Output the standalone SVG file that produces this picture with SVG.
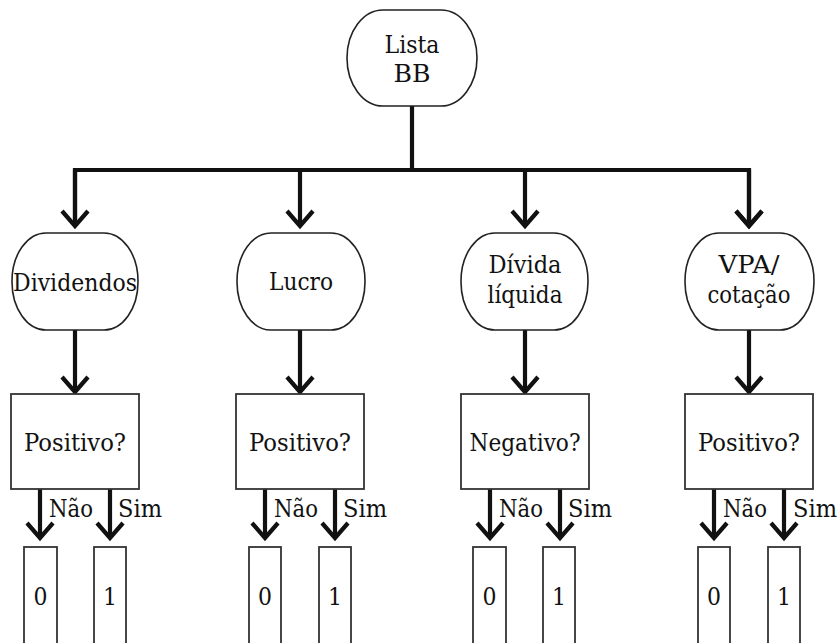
<svg xmlns="http://www.w3.org/2000/svg" width="839" height="643" viewBox="0 0 839 643">
  <defs>
    <style>
      .node { fill: #ffffff; stroke: #222222; stroke-width: 1.6; }
      .box { fill: #ffffff; stroke: #333333; stroke-width: 1.8; }
      .wire { fill: none; stroke: #111111; stroke-width: 4.2; stroke-linecap: butt; stroke-linejoin: miter; }
      .lbl { text-anchor: middle; }
    </style>
    <marker id="chev" viewBox="-20 -16 24 32" refX="0" refY="0" markerWidth="24" markerHeight="32" markerUnits="userSpaceOnUse" orient="auto">
      <path d="M -15,-13 L 0,0 L -15,13" fill="none" stroke="#111111" stroke-width="4.2" stroke-linejoin="miter"/>
    </marker>
  </defs>
  <rect width="839" height="643" fill="#ffffff"/>

  <!-- connectors -->
  <g id="connectors" class="wire">
    <!-- root to the four criteria -->
    <path d="M 412,106 V 170"/>
    <path d="M 75,226 V 170 H 749 V 226" marker-end="url(#chev)"/>
    <path d="M 75,170 V 226" marker-end="url(#chev)"/>
    <path d="M 300,170 V 226" marker-end="url(#chev)"/>
    <path d="M 525,170 V 226" marker-end="url(#chev)"/>
    <path d="M 749,170 V 226" marker-end="url(#chev)"/>
    <!-- criterion to test -->
    <path d="M 75,330 V 392" marker-end="url(#chev)"/>
    <path d="M 300,330 V 392" marker-end="url(#chev)"/>
    <path d="M 525,330 V 392" marker-end="url(#chev)"/>
    <path d="M 749,330 V 392" marker-end="url(#chev)"/>
    <!-- test outcomes -->
    <path d="M 40,489 V 538" marker-end="url(#chev)"/>
    <path d="M 110,489 V 538" marker-end="url(#chev)"/>
    <path d="M 265,489 V 538" marker-end="url(#chev)"/>
    <path d="M 335,489 V 538" marker-end="url(#chev)"/>
    <path d="M 490,489 V 538" marker-end="url(#chev)"/>
    <path d="M 560,489 V 538" marker-end="url(#chev)"/>
    <path d="M 714,489 V 538" marker-end="url(#chev)"/>
    <path d="M 784,489 V 538" marker-end="url(#chev)"/>
  </g>

  <g font-family="DejaVu Serif, serif" font-size="24" fill="#111111">
  <!-- outcome labels -->
  <g id="branch-labels">
    <text x="49" y="517" textLength="44" lengthAdjust="spacingAndGlyphs">Não</text><text x="118" y="517" textLength="44" lengthAdjust="spacingAndGlyphs">Sim</text>
    <text x="274" y="517" textLength="44" lengthAdjust="spacingAndGlyphs">Não</text><text x="343" y="517" textLength="44" lengthAdjust="spacingAndGlyphs">Sim</text>
    <text x="499" y="517" textLength="44" lengthAdjust="spacingAndGlyphs">Não</text><text x="568" y="517" textLength="44" lengthAdjust="spacingAndGlyphs">Sim</text>
    <text x="723" y="517" textLength="44" lengthAdjust="spacingAndGlyphs">Não</text><text x="793" y="517" textLength="44" lengthAdjust="spacingAndGlyphs">Sim</text>
  </g>

  <!-- root -->
  <g id="lista-bb">
    <rect class="node" x="347" y="10" width="130" height="96" rx="36" ry="48"/>
    <text class="lbl" x="412" y="53" textLength="55" lengthAdjust="spacingAndGlyphs">Lista</text>
    <text class="lbl" x="412" y="82" textLength="37" lengthAdjust="spacingAndGlyphs">BB</text>
  </g>

  <!-- criteria -->
  <g id="dividendos">
    <rect class="node" x="12" y="233" width="126" height="97" rx="34" ry="48"/>
    <text class="lbl" x="75" y="291" textLength="124" lengthAdjust="spacingAndGlyphs">Dividendos</text>
  </g>
  <g id="lucro">
    <rect class="node" x="237" y="233" width="128" height="97" rx="34" ry="48"/>
    <text class="lbl" x="301" y="290" textLength="64" lengthAdjust="spacingAndGlyphs">Lucro</text>
  </g>
  <g id="divida-liquida">
    <rect class="node" x="461" y="233" width="127" height="97" rx="34" ry="48"/>
    <text class="lbl" x="525" y="273" textLength="73" lengthAdjust="spacingAndGlyphs">Dívida</text>
    <text class="lbl" x="525" y="303" textLength="75" lengthAdjust="spacingAndGlyphs">líquida</text>
  </g>
  <g id="vpa-cotacao">
    <rect class="node" x="685" y="233" width="129" height="97" rx="34" ry="48"/>
    <text class="lbl" x="749" y="273" textLength="61" lengthAdjust="spacingAndGlyphs">VPA/</text>
    <text class="lbl" x="749" y="303" textLength="83" lengthAdjust="spacingAndGlyphs">cotação</text>
  </g>

  <!-- tests -->
  <g id="teste-dividendos">
    <rect class="box" x="11" y="394" width="128" height="95"/>
    <text class="lbl" x="75" y="451" textLength="102" lengthAdjust="spacingAndGlyphs">Positivo?</text>
  </g>
  <g id="teste-lucro">
    <rect class="box" x="236" y="394" width="128" height="95"/>
    <text class="lbl" x="300" y="451" textLength="102" lengthAdjust="spacingAndGlyphs">Positivo?</text>
  </g>
  <g id="teste-divida">
    <rect class="box" x="461" y="394" width="128" height="95"/>
    <text class="lbl" x="525" y="451" textLength="111" lengthAdjust="spacingAndGlyphs">Negativo?</text>
  </g>
  <g id="teste-vpa">
    <rect class="box" x="685" y="394" width="128" height="95"/>
    <text class="lbl" x="749" y="451" textLength="102" lengthAdjust="spacingAndGlyphs">Positivo?</text>
  </g>

  <!-- scores -->
  <g id="score-dividendos-0"><rect class="box" x="24" y="547" width="33" height="110"/><text class="lbl" x="40.5" y="605" textLength="14" lengthAdjust="spacingAndGlyphs">0</text></g>
  <g id="score-dividendos-1"><rect class="box" x="94" y="547" width="32" height="110"/><text class="lbl" x="110" y="605" textLength="14" lengthAdjust="spacingAndGlyphs">1</text></g>
  <g id="score-lucro-0"><rect class="box" x="249" y="547" width="32" height="110"/><text class="lbl" x="265" y="605" textLength="14" lengthAdjust="spacingAndGlyphs">0</text></g>
  <g id="score-lucro-1"><rect class="box" x="319" y="547" width="32" height="110"/><text class="lbl" x="335" y="605" textLength="14" lengthAdjust="spacingAndGlyphs">1</text></g>
  <g id="score-divida-0"><rect class="box" x="473" y="547" width="33" height="110"/><text class="lbl" x="489.5" y="605" textLength="14" lengthAdjust="spacingAndGlyphs">0</text></g>
  <g id="score-divida-1"><rect class="box" x="543" y="547" width="32" height="110"/><text class="lbl" x="559" y="605" textLength="14" lengthAdjust="spacingAndGlyphs">1</text></g>
  <g id="score-vpa-0"><rect class="box" x="698" y="547" width="32" height="110"/><text class="lbl" x="714" y="605" textLength="14" lengthAdjust="spacingAndGlyphs">0</text></g>
  <g id="score-vpa-1"><rect class="box" x="768" y="547" width="32" height="110"/><text class="lbl" x="784" y="605" textLength="14" lengthAdjust="spacingAndGlyphs">1</text></g>
  </g>
</svg>
